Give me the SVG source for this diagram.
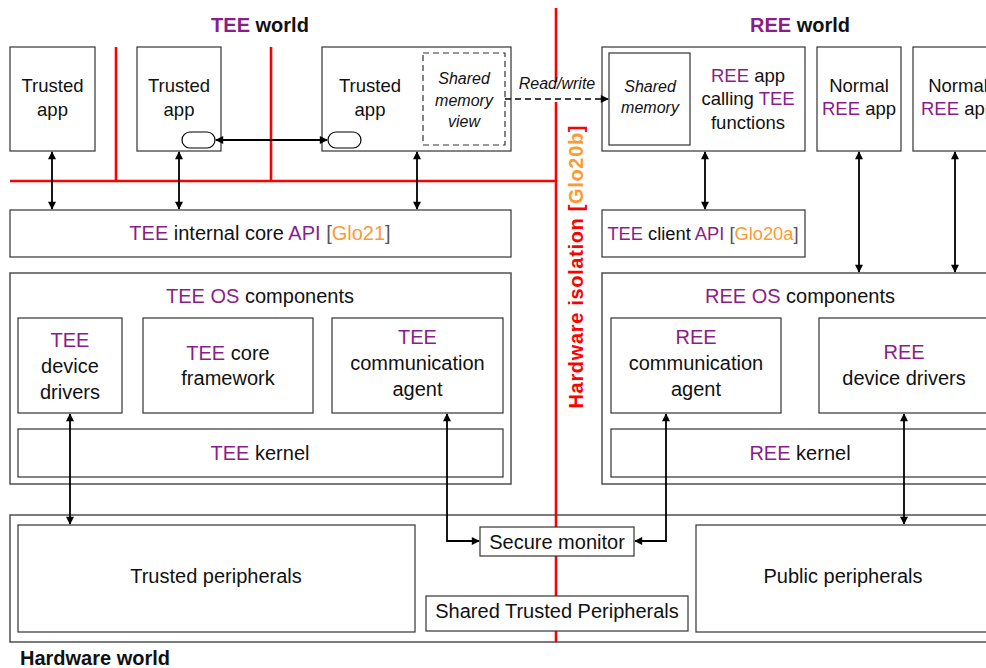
<svg xmlns="http://www.w3.org/2000/svg" width="986" height="668" viewBox="0 0 986 668">
  <defs>
    <marker id="tip" viewBox="0 0 10 10" refX="9" refY="5" markerWidth="9" markerHeight="8" markerUnits="userSpaceOnUse" orient="auto-start-reverse">
      <path d="M0,0 L10,5 L0,10 Z" fill="#000"/>
    </marker>
    <style>
      .box { fill: #fff; stroke: #333; stroke-width: 1.2; }
      .outer { fill: #fff; stroke: #444; stroke-width: 1.4; }
      .dash { fill: none; stroke: #333; stroke-width: 1.2; stroke-dasharray: 6 4; }
      .pill { fill: #fff; stroke: #000; stroke-width: 1.2; }
      .wall { stroke: #ff0000; stroke-width: 2.6; fill: none; }
      .link { stroke: #000; stroke-width: 1.8; fill: none; marker-start: url(#tip); marker-end: url(#tip); }
      .oneway { stroke: #000; stroke-width: 1.5; fill: none; stroke-dasharray: 6 4; marker-end: url(#tip); }
      text { font-family: "Liberation Sans", Arial, sans-serif; fill: #111; text-anchor: middle; }
      .s { font-size: 18.5px; }
      .m { font-size: 20px; }
      .it { font-style: italic; font-size: 16px; }
      .title { font-weight: bold; font-size: 20px; }
      .p { fill: #8b1c8b; }
      .o { fill: #ff9a33; }
      .g { fill: #555; }
    </style>
  </defs>

  <!-- isolation walls -->
  <g id="walls">
    <line class="wall" x1="556" y1="8" x2="556" y2="642"/>
    <line class="wall" x1="10" y1="181" x2="556" y2="181"/>
    <line class="wall" x1="116" y1="47" x2="116" y2="181"/>
    <line class="wall" x1="271" y1="47" x2="271" y2="181"/>
    <rect x="549" y="82" width="14" height="20" fill="#fff"/>
  </g>

  <text class="title" x="260" y="32"><tspan class="p">TEE</tspan> world</text>
  <text class="title" x="800" y="32"><tspan class="p">REE</tspan> world</text>

  <!-- trusted applications -->
  <g id="ta1">
    <rect class="box" x="10" y="47" width="85" height="104"/>
    <text class="s" x="52.5" y="92">Trusted</text>
    <text class="s" x="52.5" y="116">app</text>
  </g>
  <g id="ta2">
    <rect class="box" x="137" y="47" width="84" height="104"/>
    <text class="s" x="179" y="92">Trusted</text>
    <text class="s" x="179" y="116">app</text>
    <rect class="pill" x="182" y="132" width="33" height="16" rx="8"/>
  </g>
  <g id="ta3">
    <rect class="box" x="322" y="47" width="189" height="104"/>
    <text class="s" x="370" y="92">Trusted</text>
    <text class="s" x="370" y="116">app</text>
    <rect class="pill" x="328" y="132" width="33" height="16" rx="8"/>
    <rect class="dash" x="423" y="53" width="82" height="92"/>
    <text class="it" x="464" y="84">Shared</text>
    <text class="it" x="464" y="106">memory</text>
    <text class="it" x="464" y="127">view</text>
  </g>

  <!-- rich applications -->
  <g id="ree-app">
    <rect class="box" x="602" y="47" width="203" height="104"/>
    <rect class="box" x="609" y="53" width="81" height="92"/>
    <text class="it" x="650" y="92">Shared</text>
    <text class="it" x="650" y="113">memory</text>
    <text class="s" x="748" y="82"><tspan class="p">REE</tspan> app</text>
    <text class="s" x="748" y="105">calling <tspan class="p">TEE</tspan></text>
    <text class="s" x="748" y="129">functions</text>
  </g>
  <g id="normal1">
    <rect class="box" x="817" y="47" width="84" height="104"/>
    <text class="s" x="859" y="92">Normal</text>
    <text class="s" x="859" y="115"><tspan class="p">REE</tspan> app</text>
  </g>
  <g id="normal2">
    <rect class="box" x="913" y="47" width="90" height="104"/>
    <text class="s" x="958" y="92">Normal</text>
    <text class="s" x="958" y="115"><tspan class="p">REE</tspan> app</text>
  </g>

  <!-- APIs -->
  <g id="internal-api">
    <rect class="box" x="10" y="210" width="501" height="47"/>
    <text class="m" x="260" y="240"><tspan class="p">TEE</tspan> internal core <tspan class="p">API</tspan> <tspan class="g">[</tspan><tspan class="o">Glo21</tspan><tspan class="g">]</tspan></text>
  </g>
  <g id="client-api">
    <rect class="box" x="602" y="210" width="203" height="47"/>
    <text x="703" y="240" style="font-size:18.3px"><tspan class="p">TEE</tspan> client <tspan class="p">API</tspan> <tspan class="g">[</tspan><tspan class="o">Glo20a</tspan><tspan class="g">]</tspan></text>
  </g>

  <!-- TEE OS -->
  <g id="tee-os">
    <rect class="outer" x="10" y="273" width="501" height="211"/>
    <text class="m" x="260" y="303"><tspan class="p">TEE OS</tspan> components</text>
  </g>
  <g id="tee-drivers">
    <rect class="box" x="18" y="318" width="104" height="95"/>
    <text class="m" x="70" y="347"><tspan class="p">TEE</tspan></text>
    <text class="m" x="70" y="373">device</text>
    <text class="m" x="70" y="399">drivers</text>
  </g>
  <g id="tee-core">
    <rect class="box" x="143" y="318" width="170" height="95"/>
    <text class="m" x="228" y="360"><tspan class="p">TEE</tspan> core</text>
    <text class="m" x="228" y="385">framework</text>
  </g>
  <g id="tee-agent">
    <rect class="box" x="332" y="318" width="171" height="95"/>
    <text class="m" x="417.5" y="344"><tspan class="p">TEE</tspan></text>
    <text class="m" x="417.5" y="370">communication</text>
    <text class="m" x="417.5" y="396">agent</text>
  </g>
  <g id="tee-kernel">
    <rect class="box" x="18" y="429" width="485" height="48"/>
    <text class="m" x="260" y="460"><tspan class="p">TEE</tspan> kernel</text>
  </g>

  <!-- REE OS -->
  <g id="ree-os">
    <rect class="outer" x="602" y="273" width="400" height="211"/>
    <text class="m" x="800" y="303"><tspan class="p">REE OS</tspan> components</text>
  </g>
  <g id="ree-agent">
    <rect class="box" x="611" y="318" width="170" height="95"/>
    <text class="m" x="696" y="344"><tspan class="p">REE</tspan></text>
    <text class="m" x="696" y="370">communication</text>
    <text class="m" x="696" y="396">agent</text>
  </g>
  <g id="ree-drivers">
    <rect class="box" x="819" y="318" width="180" height="95"/>
    <text class="m" x="904" y="359"><tspan class="p">REE</tspan></text>
    <text class="m" x="904" y="385">device drivers</text>
  </g>
  <g id="ree-kernel">
    <rect class="box" x="611" y="429" width="390" height="48"/>
    <text class="m" x="800" y="460"><tspan class="p">REE</tspan> kernel</text>
  </g>

  <!-- hardware -->
  <g id="hardware">
    <rect x="10" y="515" width="1000" height="127" fill="none" stroke="#444" stroke-width="1.4"/>
    <text class="title" x="20" y="665" style="text-anchor:start">Hardware world</text>
  </g>
  <g id="trusted-periph">
    <rect class="box" x="18" y="525" width="397" height="107"/>
    <text class="m" x="216" y="583">Trusted peripherals</text>
  </g>
  <g id="public-periph">
    <rect class="box" x="696" y="525" width="310" height="107"/>
    <text class="m" x="843" y="583">Public peripherals</text>
  </g>
  <g id="secure-monitor">
    <rect class="box" x="480" y="527" width="154" height="29"/>
    <text class="m" x="557" y="549">Secure monitor</text>
  </g>
  <g id="shared-periph">
    <rect class="box" x="426" y="596" width="262" height="35"/>
    <text class="m" x="557" y="618">Shared Trusted Peripherals</text>
  </g>

  <text x="583" y="267" transform="rotate(-90 583 267)" style="font-weight:bold;font-size:20px;fill:#ff0000" textLength="283" lengthAdjust="spacing">Hardware isolation [<tspan class="o">Glo20b</tspan>]</text>

  <!-- connectors -->
  <g id="connectors">
    <line class="link" x1="216" y1="140" x2="327" y2="140"/>
    <line class="link" x1="52" y1="152" x2="52" y2="209"/>
    <line class="link" x1="179" y1="152" x2="179" y2="209"/>
    <line class="link" x1="417" y1="152" x2="417" y2="209"/>
    <line class="link" x1="705" y1="152" x2="705" y2="209"/>
    <line class="link" x1="859" y1="152" x2="859" y2="272"/>
    <line class="link" x1="955" y1="152" x2="955" y2="272"/>
    <line class="link" x1="70" y1="414" x2="70" y2="524"/>
    <line class="link" x1="904" y1="414" x2="904" y2="524"/>
    <polyline class="link" points="447,414 447,541 479,541"/>
    <polyline class="link" points="666,414 666,541 635,541"/>
    <polyline class="oneway" points="505,99 608,99"/>
    <text class="it" x="557" y="89">Read/write</text>
  </g>
</svg>
